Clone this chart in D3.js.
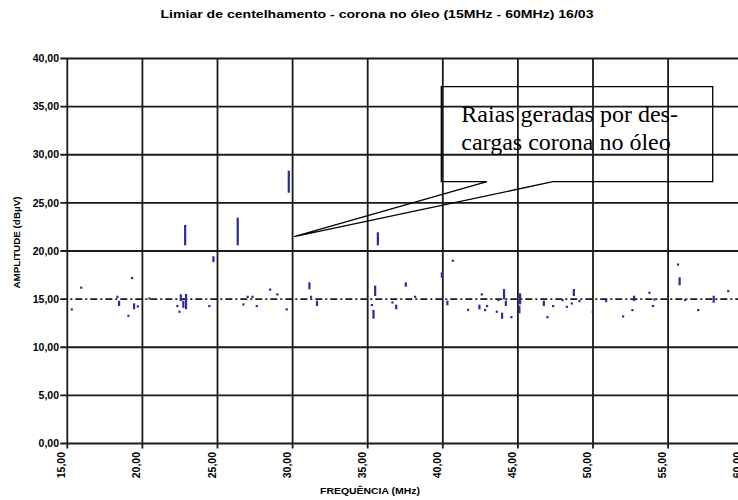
<!DOCTYPE html>
<html><head><meta charset="utf-8">
<script src="https://cdn.jsdelivr.net/npm/d3@7"></script>
<style>body{margin:0;background:#fff}svg{display:block}</style>
</head><body>
<svg id="c" width="738" height="500"></svg>
<script>
const titleText = "Limiar de centelhamento - corona no óleo (15MHz - 60MHz) 16/03";
const xTitle = "FREQUÊNCIA (MHz)";
const yTitle = "AMPLITUDE (dBµV)";
const xTicks = [15,20,25,30,35,40,45,50,55,60];
const yTicks = [0,5,10,15,20,25,30,35,40];
const threshold = 15;
const markFreq = [15.29,15.92,18.33,18.44,19.06,19.31,19.44,19.69,20.46,22.32,22.46,22.55,22.72,22.84,22.9,24.45,24.72,26.34,26.72,27.0,27.32,27.61,28.5,28.98,29.6,29.74,31.11,31.22,31.62,35.27,35.38,35.49,35.67,36.64,36.89,37.53,38.15,39.93,40.3,40.66,41.68,42.43,42.59,42.81,42.94,43.59,43.7,43.94,44.07,44.19,44.56,45.09,45.14,46.72,46.96,47.34,47.96,48.25,48.58,48.72,49.09,49.98,50.87,52.0,52.62,52.73,53.75,53.99,54.08,55.65,55.76,56.13,57.0,58.03,59.0];
const markLow  = [13.94,16.2,15.25,14.39,13.28,17.2,14.05,14.25,15.08,14.29,13.7,14.9,14.2,20.7,14.05,14.29,18.95,20.7,14.46,15.25,15.25,14.29,16.0,15.5,13.94,26.16,16.12,15.25,14.39,14.39,13.07,15.43,20.7,14.67,14.05,16.4,15.25,17.33,14.46,19.0,13.9,14.05,15.5,13.87,14.29,13.7,14.91,13.07,15.08,14.39,13.14,13.63,14.56,14.39,13.14,14.29,14.91,14.21,14.56,15.43,14.8,13.7,14.8,13.21,13.87,14.91,15.67,14.29,14.98,18.6,16.54,14.91,13.87,14.73,15.84];
const markHigh = [13.94,16.2,15.25,14.73,13.28,17.2,14.46,14.25,15.08,14.29,13.7,15.4,14.73,22.6,15.43,14.29,19.35,23.36,14.46,15.25,15.25,14.29,16.0,15.5,13.94,28.24,16.64,15.25,14.73,14.39,13.77,16.3,21.84,14.67,14.32,16.64,15.25,17.68,14.73,19.0,13.9,14.32,15.5,13.87,14.29,13.7,14.91,13.49,15.95,14.73,13.14,14.21,15.5,14.73,13.14,14.29,14.91,14.21,14.56,15.95,14.8,13.7,14.8,13.21,13.87,15.25,15.67,14.29,14.98,18.6,17.17,14.91,13.87,15.25,15.84];
const noteLines = ["Raias geradas por des-","cargas corona no óleo"];
// callout in data units: box and pointer
const noteBox = {f0:39.9, f1:57.97, a0:27.2, a1:37.07};
const noteBase = [42.94, 47.33];
const noteTip = [30.1, 21.5];

const svg = d3.select("#c");
const x = d3.scaleLinear().domain([15,60]).range([67.3,743.2]);
const y = d3.scaleLinear().domain([0,40]).range([443.5,58.5]);
const gridColor = "#1a1a1a";

svg.append("g").selectAll("line").data(yTicks.filter(d=>d!==threshold)).join("line")
  .attr("x1", x(15)-7).attr("x2", 738).attr("y1", d=>y(d)).attr("y2", d=>y(d))
  .attr("stroke", gridColor).attr("stroke-width", 1.8);
svg.append("g").selectAll("line").data(xTicks).join("line")
  .attr("x1", d=>x(d)).attr("x2", d=>x(d)).attr("y1", y(40)).attr("y2", y(0)+5)
  .attr("stroke", gridColor).attr("stroke-width", 1.8);
svg.append("line").attr("x1", x(15)-7).attr("x2", 738).attr("y1", y(threshold)).attr("y2", y(threshold))
  .attr("stroke", gridColor).attr("stroke-width", 1.8).attr("stroke-dasharray", "7,3,2,3");

svg.append("g").selectAll("text").data(yTicks).join("text")
  .attr("x", 59).attr("y", d=>y(d)+3.7).attr("text-anchor","end")
  .attr("font-family","Liberation Sans, Arial, sans-serif").attr("font-weight","bold")
  .attr("font-size", 10.5).text(d=>d.toFixed(2).replace(".",","));
svg.append("g").selectAll("text").data(xTicks).join("text")
  .attr("transform", d=>`translate(${x(d)-2},452) rotate(-90)`).attr("text-anchor","end")
  .attr("font-family","Liberation Sans, Arial, sans-serif").attr("font-weight","bold")
  .attr("font-size", 10.5).text(d=>d.toFixed(2).replace(".",","));

svg.append("g").selectAll("rect").data(markFreq.map((f,i)=>({f,lo:markLow[i],hi:markHigh[i]}))).join("rect")
  .attr("x", d=>x(d.f)-1).attr("width", 2.2)
  .attr("y", d=>y(d.hi)-1).attr("height", d=>Math.max(2.2, y(d.lo)-y(d.hi)+2))
  .attr("fill", "#2b2ba0");

const bx0=x(noteBox.f0), bx1=x(noteBox.f1), by0=y(noteBox.a1), by1=y(noteBox.a0);
const path = [[x(noteBase[0]),by1],[bx0,by1],[bx0,by0],[bx1,by0],[bx1,by1],[x(noteBase[1]),by1],[x(noteTip[0]),y(noteTip[1])],[x(noteBase[0]),by1]];
svg.append("path").attr("d", d3.line()(path)).attr("fill","none").attr("stroke","#000").attr("stroke-width",1.3);
svg.append("g").selectAll("text").data(noteLines).join("text")
  .attr("x", bx0+20).attr("y", (d,i)=>by0+35+i*28.3)
  .attr("font-family","Liberation Serif, Times New Roman, serif").attr("font-size", 24).attr("fill","#000")
  .text(d=>d);

svg.append("text").attr("x", 377).attr("y", 18).attr("text-anchor","middle")
  .attr("font-family","Liberation Sans, Arial, sans-serif").attr("font-weight","bold").attr("font-size",11)
  .attr("textLength", 433).attr("lengthAdjust","spacingAndGlyphs").text(titleText);
svg.append("text").attr("x", 370).attr("y", 494).attr("text-anchor","middle")
  .attr("font-family","Liberation Sans, Arial, sans-serif").attr("font-weight","bold").attr("font-size",9)
  .attr("textLength", 100).attr("lengthAdjust","spacingAndGlyphs").text(xTitle);
svg.append("text").attr("transform","translate(20,242.5) rotate(-90)").attr("text-anchor","middle")
  .attr("font-family","Liberation Sans, Arial, sans-serif").attr("font-weight","bold").attr("font-size",8.5)
  .attr("textLength", 92).attr("lengthAdjust","spacingAndGlyphs").text(yTitle);
</script>
</body></html>
